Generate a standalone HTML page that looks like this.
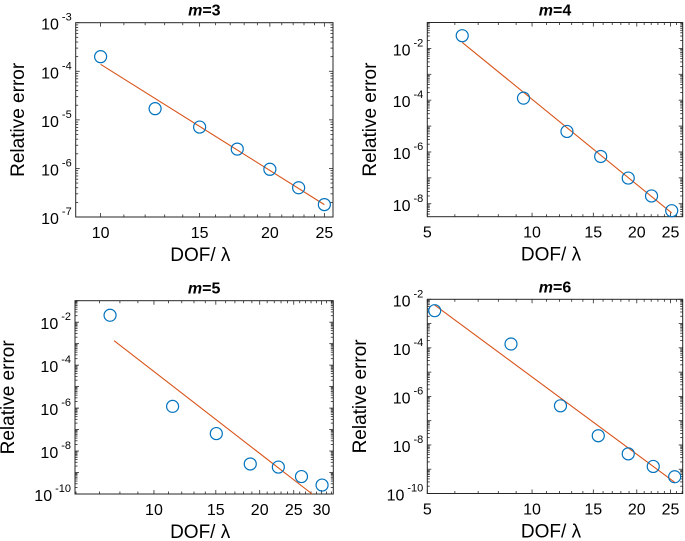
<!DOCTYPE html>
<html><head><meta charset="utf-8"><style>
html,body{margin:0;padding:0;background:#fff;}
svg{display:block;font-family:"Liberation Sans",Arial,sans-serif;}
</style></head><body>
<svg id="fig" width="685" height="541" viewBox="0 0 685 541"></svg>
<script>
// ---- data ----
const m3X = [10, 12.5, 15, 17.5, 20, 22.5, 25];
const m3Y = [2.0e-4, 1.7e-5, 7.1e-6, 2.5e-6, 9.6e-7, 4.0e-7, 1.8e-7];
const m3FitX = [10, 25];
const m3FitY = [1.39e-4, 1.8e-7];

const m4X = [6.3, 9.45, 12.6, 15.75, 18.9, 22.05, 25.2];
const m4Y = [3.1e-2, 1.2e-4, 6.2e-6, 6.7e-7, 9.8e-8, 2.0e-8, 5.4e-9];
const m4FitX = [6.3, 25.2];
const m4FitY = [1.7e-2, 4.4e-9];

const m5X = [7.5, 11.3, 15.05, 18.8, 22.6, 26.3, 30.1];
const m5Y = [2.1e-2, 1.2e-6, 6.5e-8, 2.5e-9, 1.8e-9, 6.5e-10, 2.6e-10];
const m5FitX = [7.7, 28.2];
const m5FitY = [1.38e-3, 1.0e-10];

const m6X = [5.25, 8.7, 12.07, 15.5, 18.9, 22.3, 25.7];
const m6Y = [3.4e-3, 1.44e-4, 4.1e-7, 2.4e-8, 4.3e-9, 1.3e-9, 4.9e-10];
const m6FitX = [5.25, 25.7];
const m6FitY = [5.8e-3, 2.9e-10];

const m3XTicks = [10, 15, 20, 25];
const m4XTicks = [5, 10, 15, 20, 25];
const m5XTicks = [10, 15, 20, 25, 30];
const m6XTicks = [5, 10, 15, 20, 25];
const m3YTicks = [-7, -6, -5, -4, -3];
const m4YTicks = [-8, -6, -4, -2];
const m5YTicks = [-10, -8, -6, -4, -2];
const m6YTicks = [-10, -8, -6, -4, -2];

const NS = "http://www.w3.org/2000/svg";
const svg = document.getElementById("fig");
function mk(tag, attrs, parent) {
  const e = document.createElementNS(NS, tag);
  for (const k in attrs) e.setAttribute(k, attrs[k]);
  (parent || svg).appendChild(e);
  return e;
}

function panel(cfg) {
  const g = mk("g", {});
  
  
  const {L, R, T, B, xmin, xmax, ymin, ymax} = cfg;
  const lx0 = Math.log(xmin), lx1 = Math.log(xmax);
  const sx = v => L + (Math.log(v) - lx0) / (lx1 - lx0) * (R - L);
  const sy = v => T + (ymax - Math.log10(v)) / (ymax - ymin) * (B - T);
  const syl = e => T + (ymax - e) / (ymax - ymin) * (B - T);

  for (let v = Math.ceil(xmin); v <= xmax; v++) {
    const x = sx(v);
    const major = cfg.xticks.includes(v);
    const len = major ? 4 : 2.5;
    mk("line", {x1:x, y1:B, x2:x, y2:B-len, stroke:"#262626", "stroke-width":0.8}, g);
    mk("line", {x1:x, y1:T, x2:x, y2:T+len, stroke:"#262626", "stroke-width":0.8}, g);
  }
  for (let d = Math.floor(ymin); d <= Math.ceil(ymax); d++) {
    for (let k = 1; k <= 9; k++) {
      const e = d + Math.log10(k);
      if (e < ymin - 1e-9 || e > ymax + 1e-9) continue;
      const y = syl(e);
      const len = k === 1 ? 4 : 2.5;
      mk("line", {x1:L, y1:y, x2:L+len, y2:y, stroke:"#262626", "stroke-width":0.8}, g);
      mk("line", {x1:R, y1:y, x2:R-len, y2:y, stroke:"#262626", "stroke-width":0.8}, g);
    }
  }
  const box = mk("rect", {x:L, y:T, width:R-L, height:B-T, fill:"none", stroke:"#262626", "stroke-width":1}, g);
  
  

  cfg.xticks.forEach(v => {
    const t = mk("text", {x:sx(v), y:B+21, "text-anchor":"middle", "font-size":16, fill:"#000"}, g);
    t.textContent = v;
    
    
  });
  cfg.yticks.forEach(e => {
    const y = syl(e);
    const t = mk("text", {x:L-4, y:y+7, "text-anchor":"end", "font-size":16, fill:"#000"}, g);
    const b = mk("tspan", {}, t); b.textContent = "10";
    const s = mk("tspan", {dx:3, dy:-9, "font-size":11}, t); s.textContent = e;
    
    
  });

  const fl = mk("line", {x1:sx(cfg.fitX[0]), y1:sy(cfg.fitY[0]), x2:sx(cfg.fitX[1]), y2:sy(cfg.fitY[1]), stroke:"#D95319", "stroke-width":1.1}, g);
  
  

  cfg.xs.forEach((v, i) => {
    const c = mk("circle", {cx:sx(v), cy:sy(cfg.ys[i]), r:6, fill:"none", stroke:"#0072BD", "stroke-width":1.2}, g);
    
    
  });

  const tt = mk("text", {x:(L+R)/2, y:T-7, "text-anchor":"middle", "font-size":16, "font-weight":"bold", fill:"#000"}, g);
  const ti = mk("tspan", {"font-style":"italic"}, tt); ti.textContent = "m";
  const tr = mk("tspan", {}, tt); tr.textContent = "=" + cfg.m;
  
  

  const xl = mk("text", {x:(L+R)/2 - 4, y:B+44, "text-anchor":"middle", "font-size":19, fill:"#000"}, g);
  xl.textContent = "DOF/ λ";
  
  
  const yc = (T+B)/2;
  const yl = mk("text", {x:cfg.ylx, y:yc, "text-anchor":"middle", "font-size":19, fill:"#000", transform:`rotate(-90 ${cfg.ylx} ${yc})`}, g);
  yl.textContent = "Relative error";
  
  
}

panel({name:"panel-m3", m:3, L:75.7, R:333, T:22.7, B:217, xmin:9.03, xmax:25.9, ymin:-7, ymax:-3,
  xs:m3X, ys:m3Y, fitX:m3FitX, fitY:m3FitY, xticks:m3XTicks, yticks:m3YTicks, ylx:24});
panel({name:"panel-m4", m:4, L:427.3, R:682.7, T:22.5, B:216.7, xmin:5, xmax:27.1, ymin:-8.5, ymax:-1,
  xs:m4X, ys:m4Y, fitX:m4FitX, fitY:m4FitY, xticks:m4XTicks, yticks:m4YTicks, ylx:376});
panel({name:"panel-m5", m:5, L:75, R:333.3, T:300.7, B:494, xmin:5.96, xmax:32.4, ymin:-10, ymax:-1,
  xs:m5X, ys:m5Y, fitX:m5FitX, fitY:m5FitY, xticks:m5XTicks, yticks:m5YTicks, ylx:14});
panel({name:"panel-m6", m:6, L:427.3, R:682.7, T:299.3, B:493.5, xmin:5, xmax:27.1, ymin:-10, ymax:-2,
  xs:m6X, ys:m6Y, fitX:m6FitX, fitY:m6FitY, xticks:m6XTicks, yticks:m6YTicks, ylx:366});
</script>
</body></html>
